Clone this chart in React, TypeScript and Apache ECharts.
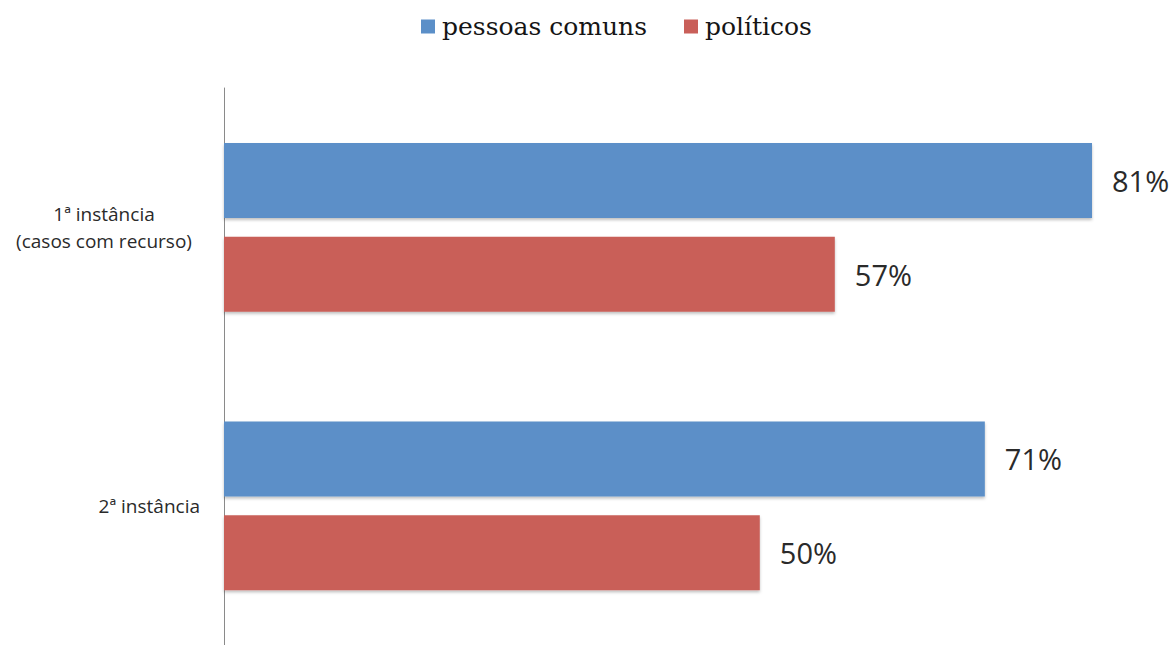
import React, { useEffect, useRef } from "react";
import * as echarts from "echarts";

const categories = ["1ª instância\n(casos com recurso)", "2ª instância"];
const seriesNames = ["pessoas comuns", "políticos"];
const pessoasComuns = [81, 71];
const politicos = [57, 50];
const colors = ["#5b8fc8", "#c95f59"];

export default function App() {
  const ref = useRef<HTMLDivElement>(null);
  useEffect(() => {
    const chart = echarts.init(ref.current!, null, { renderer: "svg" });
    const barStyle = (c: string) => ({
      color: c,
      shadowColor: "rgba(0,0,0,0.25)",
      shadowBlur: 3,
      shadowOffsetY: 2,
    });
    const label = {
      show: true,
      position: "right" as const,
      distance: 20,
      formatter: "{c}%",
      fontFamily: "Open Sans",
      fontSize: 29,
      color: "#2a2a2a",
    };
    chart.setOption({
      animation: false,
      legend: {
        top: 9,
        left: 416,
        itemWidth: 14,
        itemHeight: 14,
        itemGap: 37,
        icon: "rect",
        data: seriesNames,
        textStyle: { fontFamily: "DejaVu Serif", fontSize: 25, color: "#151515", padding: [0, 0, 0, 2] },
      },
      grid: { left: 224, top: 88, right: 0, height: 562 },
      xAxis: { type: "value", min: 0, max: 88.84, show: false },
      yAxis: {
        type: "category",
        inverse: true,
        data: categories,
        axisLine: { show: true, lineStyle: { color: "#8a8a8a", width: 1 } },
        axisTick: { show: false },
        axisLabel: {
          margin: 24,
          fontFamily: "Open Sans",
          fontSize: 19,
          color: "#2a2a2a",
          lineHeight: 27,
          formatter: (v: string) => (v.includes("\n") ? v.split("\n").map((s) => `{c|${s}}`).join("\n") : v),
          rich: { c: { width: 192, align: "center", fontFamily: "Open Sans", fontSize: 19, color: "#2a2a2a", lineHeight: 27 } },
        },
      },
      series: [
        {
          name: seriesNames[0],
          type: "bar",
          data: pessoasComuns,
          barWidth: 75,
          barGap: "25%",
          itemStyle: barStyle(colors[0]),
          label,
        },
        {
          name: seriesNames[1],
          type: "bar",
          data: politicos,
          barWidth: 75,
          barGap: "25%",
          itemStyle: barStyle(colors[1]),
          label,
        },
      ],
    });
    return () => chart.dispose();
  }, []);
  return <div ref={ref} style={{ position: "fixed", left: 0, top: 0, width: 1176, height: 645, background: "#fff" }} />;
}
